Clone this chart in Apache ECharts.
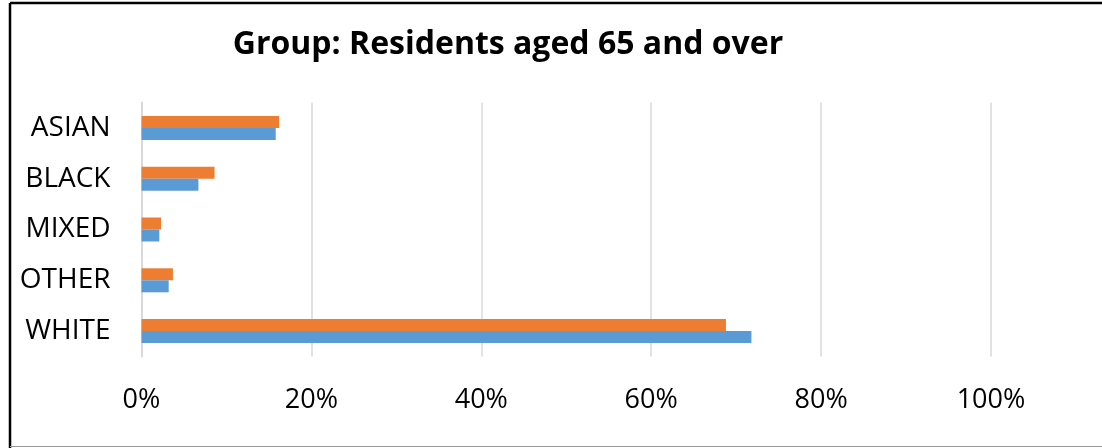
<!DOCTYPE html>
<html>
<head>
<meta charset="utf-8">
<script src="https://cdn.jsdelivr.net/npm/echarts@6/dist/echarts.min.js"></script>
<style>
html,body{margin:0;padding:0;background:#fff;}
#c{width:1102px;height:448px;}
</style>
</head>
<body>
<div id="c"></div>
<script>
const titleText = 'Group: Residents aged 65 and over';
const categories = ['WHITE', 'OTHER', 'MIXED', 'BLACK', 'ASIAN'];
const blueValues = [71.8, 3.2, 2.1, 6.7, 15.8];
const orangeValues = [68.8, 3.7, 2.3, 8.6, 16.2];
const xTicks = [0, 20, 40, 60, 80, 100];

const chart = echarts.init(document.getElementById('c'));
chart.setOption({
  animation: false,
  backgroundColor: '#fff',
  title: {
    text: titleText,
    left: 503,
    top: 24,
    textAlign: 'center',
    textStyle: {fontFamily: 'Open Sans', fontWeight: 'bold', fontSize: 32, color: '#000'}
  },
  grid: {left: 141.5, right: 111, top: 102.5, bottom: 91.5, containLabel: false},
  xAxis: {
    type: 'value',
    min: xTicks[0],
    max: xTicks[xTicks.length - 1],
    interval: 20,
    axisLine: {show: false},
    axisTick: {show: false},
    splitLine: {lineStyle: {color: '#d9d9d9', width: 1.5}},
    axisLabel: {formatter: '{value}%', fontFamily: 'Open Sans', fontSize: 27, color: '#000', margin: 30}
  },
  yAxis: {
    type: 'category',
    data: categories,
    axisLine: {show: true, lineStyle: {color: '#d9d9d9', width: 2}},
    axisTick: {show: false},
    axisLabel: {fontFamily: 'Open Sans', fontSize: 28, color: '#000', margin: 31}
  },
  series: [
    {type: 'bar', name: 'orange', data: orangeValues, barWidth: 12, barGap: '0%', itemStyle: {color: '#ED7D31'}},
    {type: 'bar', name: 'blue', data: blueValues, barWidth: 12, barGap: '0%', itemStyle: {color: '#5B9BD5'}}
  ],
  graphic: [
    {type: 'line', shape: {x1: 10, y1: 3, x2: 10, y2: 448}, style: {stroke: '#000', lineWidth: 2.5}},
    {type: 'line', shape: {x1: 10, y1: 3, x2: 1102, y2: 3}, style: {stroke: '#000', lineWidth: 2.5}},
    {type: 'line', shape: {x1: 10, y1: 446.5, x2: 1102, y2: 446.5}, style: {stroke: '#999', lineWidth: 1}}
  ]
});
</script>
</body>
</html>
